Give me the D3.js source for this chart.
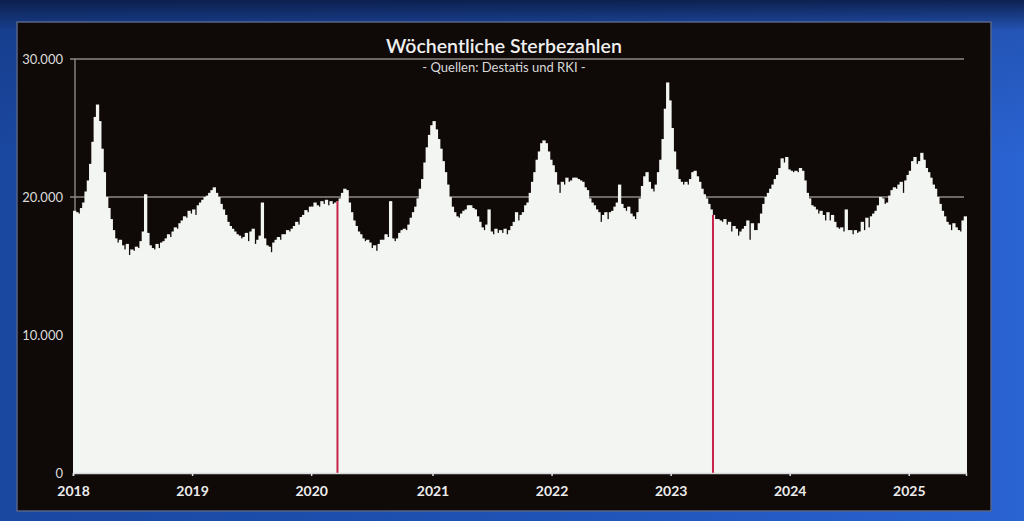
<!DOCTYPE html>
<html><head><meta charset="utf-8">
<script src="https://cdn.jsdelivr.net/npm/d3@7"></script>
<style>html,body{margin:0;padding:0;background:#1d4aa0;overflow:hidden}</style>
</head><body>
<svg id="c" width="1024" height="521"></svg>
<script>
// ---- data (weekly deaths) ----
const years = ["2018","2019","2020","2021","2022","2023","2024","2025"];
const deaths2018 = [19000,18900,18800,19200,19600,20400,21200,22400,24000,25800,
  26700,25500,23500,21800,20000,19200,18400,17600,17000,16700,
  16900,16500,16200,16600,15800,16200,16100,16400,16300,16800,
  17500,20200,17400,16500,16300,16200,16600,16300,16700,16800,
  17000,17300,17100,17500,17800,17700,18100,18300,18600,18500,
  19000,18800];
const deaths2019 = [19100,18700,19400,19600,19800,20000,20100,20300,20500,20700,
  20300,20000,19500,19100,18700,18200,17900,17700,17500,17300,
  17200,17000,17100,17400,16800,17500,17700,16600,16900,17200,
  19600,17000,16500,16400,16000,16700,16900,17100,16900,17300,
  17300,17600,17500,17700,17900,18200,18000,18550,18700,19050,
  18900,19300];
const deaths2020 = [19300,19600,19400,19300,19700,19500,19800,19400,19700,19500,
  19600,19700,19900,20300,20600,20500,19600,18900,18300,17900,
  17500,17300,17000,16800,16900,16700,16300,16500,16100,16600,
  16900,16900,17300,17100,19700,17000,16800,17000,17400,17600,
  17700,17600,18000,18500,18900,19300,19900,20600,21300,22500,
  23600,24500,25200];
const deaths2021 = [25500,24900,24200,23500,22600,21800,20900,20000,19300,18900,
  18600,18500,18800,19000,19100,19400,19400,19200,19100,18600,
  18200,17800,17600,18000,19100,17500,17300,17700,17400,17600,
  17400,17700,17300,17600,17900,18200,18900,18300,18700,18900,
  19400,19600,20300,21100,21800,22700,23300,23900,24100,23900,
  23300,22700];
const deaths2022 = [22300,21800,20900,20300,21100,20900,21400,21100,21200,21400,
  21400,21300,21200,21100,20700,20500,19900,19600,19400,19100,
  18900,18200,18700,18900,18400,18900,19000,19300,19600,20900,
  19500,19200,19000,19300,18800,18600,18400,18900,19900,20800,
  21500,21800,21100,20600,20400,20900,21800,22700,24200,26400,
  28300,27000];
const deaths2023 = [25000,23300,22000,21300,21100,20900,21100,20900,21300,21800,
  21900,21500,21100,20600,20200,19900,19500,19100,18700,18400,
  18400,18300,18200,18400,18000,18200,17500,17900,17700,17200,
  17500,17700,17900,18300,16900,18100,17600,17600,18100,18800,
  19500,20000,20300,20600,20900,21300,21600,22100,22800,22500,
  22900,22000];
const deaths2024 = [21900,21800,21900,21800,22100,21900,21200,20300,19900,19400,
  19300,19100,18800,19000,18700,18300,18900,18300,18700,18200,
  17800,17700,17800,17500,19100,17600,17600,17300,17600,17400,
  17500,18200,17600,18500,17800,18600,18800,19000,19400,20000,
  19900,19500,19600,20100,20500,20700,20600,20900,21100,20300,
  21200,21600];
const deaths2025 = [21900,22600,22900,22400,22600,23200,22700,22100,21800,21400,
  20900,20600,20000,19500,19000,18600,18200,18000,17600,18100,
  17800,17600,17500,18300,18600];
const yTicks = [0, 10000, 20000, 30000];
const gridTicks = [20000, 30000];
const markerWeeks = ["2020-W12", "2023-W19"];
const title = "Wöchentliche Sterbezahlen";
const subtitle = "- Quellen: Destatis und RKI -";

// ---- build ----
const series = [deaths2018,deaths2019,deaths2020,deaths2021,deaths2022,deaths2023,deaths2024,deaths2025];
const data = [];
series.forEach((arr,k)=>arr.forEach((v,j)=>data.push({
  year: years[k], week: j+1, key: years[k]+"-W"+String(j+1).padStart(2,"0"), value: v
})));
data.forEach((d,i)=>d.i=i);

const svg = d3.select("#c");
const defs = svg.append("defs");
const g1 = defs.append("linearGradient").attr("id","bgH").attr("x1",0).attr("x2",1).attr("y1",0).attr("y2",0);
g1.append("stop").attr("offset",0).attr("stop-color","#1a47a0");
g1.append("stop").attr("offset",0.5).attr("stop-color","#1f52b4");
g1.append("stop").attr("offset",1).attr("stop-color","#2a63d2");
const g2 = defs.append("linearGradient").attr("id","bgV").attr("x1",0).attr("x2",0).attr("y1",0).attr("y2",1);
g2.append("stop").attr("offset",0).attr("stop-color","#0c1e4a").attr("stop-opacity",0.95);
g2.append("stop").attr("offset",0.06).attr("stop-color","#0c1e4a").attr("stop-opacity",0.2);
g2.append("stop").attr("offset",0.3).attr("stop-color","#0c1e4a").attr("stop-opacity",0);

svg.append("rect").attr("width",1024).attr("height",521).attr("fill","url(#bgH)");
svg.append("rect").attr("width",1024).attr("height",521).attr("fill","url(#bgV)");

// black panel
svg.append("rect").attr("x",17).attr("y",22).attr("width",974).attr("height",489)
  .attr("fill","#0f0907").attr("stroke","#56648a").attr("stroke-width",1.5);

const x = d3.scaleLinear().domain([0, data.length]).range([73, 966]);
const y = d3.scaleLinear().domain([0, 30000]).range([473, 59]);
const fmt = d3.formatLocale({decimal:",", thousands:".", grouping:[3], currency:["","€"]}).format(",");

// gridlines (behind bars)
svg.append("g").selectAll("line").data(gridTicks).join("line")
  .attr("x1",70).attr("x2",964).attr("y1",d=>y(d)).attr("y2",d=>y(d))
  .attr("stroke","#8e8984").attr("stroke-width",1.6);

// y axis line
svg.append("line").attr("x1",75).attr("x2",75).attr("y1",y(30000)).attr("y2",y(0))
  .attr("stroke","#8e8984").attr("stroke-width",1.4);

// bars
svg.append("g").selectAll("rect").data(data).join("rect")
  .attr("x",d=>x(d.i)).attr("width",d=>x(d.i+1)-x(d.i)+1)
  .attr("y",d=>y(d.value)).attr("height",d=>y(0)-y(d.value))
  .attr("fill","#f2f5f1");

// red marker weeks
svg.append("g").selectAll("rect").data(data.filter(d=>markerWeeks.includes(d.key))).join("rect")
  .attr("x",d=>(x(d.i)+x(d.i+1))/2-1).attr("width",2)
  .attr("y",d=>y(d.value)).attr("height",d=>y(0)-y(d.value))
  .attr("fill","#c8234a");

// y labels
svg.append("g").selectAll("text").data(yTicks).join("text")
  .attr("x",63).attr("y",d=>y(d)).attr("dy","0.35em").attr("text-anchor","end")
  .attr("font-family","Lato, 'Open Sans', sans-serif").attr("font-size",13)
  .attr("fill","#dcdcdc").text(d=>fmt(d));

// x axis
const yearStarts = data.filter(d=>d.week===1);
const xAxis = d3.axisBottom(x).tickValues(yearStarts.map(d=>d.i))
  .tickFormat(i=>data[i].year).tickSize(3).tickPadding(10);
const ax = svg.append("g").attr("transform",`translate(0,${y(0)})`).call(xAxis);
ax.select(".domain").attr("stroke","#d8d8d8").attr("stroke-width",1.5);
ax.selectAll(".tick line").attr("stroke","#e0e0e0").attr("stroke-width",1.5);
ax.selectAll(".tick text").attr("fill","#ececec").attr("font-size",14).attr("font-weight","bold")
  .attr("font-family","Lato, 'Open Sans', sans-serif");

// title
svg.append("text").attr("x",504).attr("y",53).attr("text-anchor","middle")
  .attr("font-family","Lato, 'Open Sans', sans-serif").attr("font-size",19.5).attr("font-weight",600)
  .attr("fill","#efefef").text(title);
svg.append("text").attr("x",504).attr("y",72).attr("text-anchor","middle")
  .attr("font-family","Lato, 'Open Sans', sans-serif").attr("font-size",13)
  .attr("fill","#d8d8d8").text(subtitle);
</script>
</body></html>
